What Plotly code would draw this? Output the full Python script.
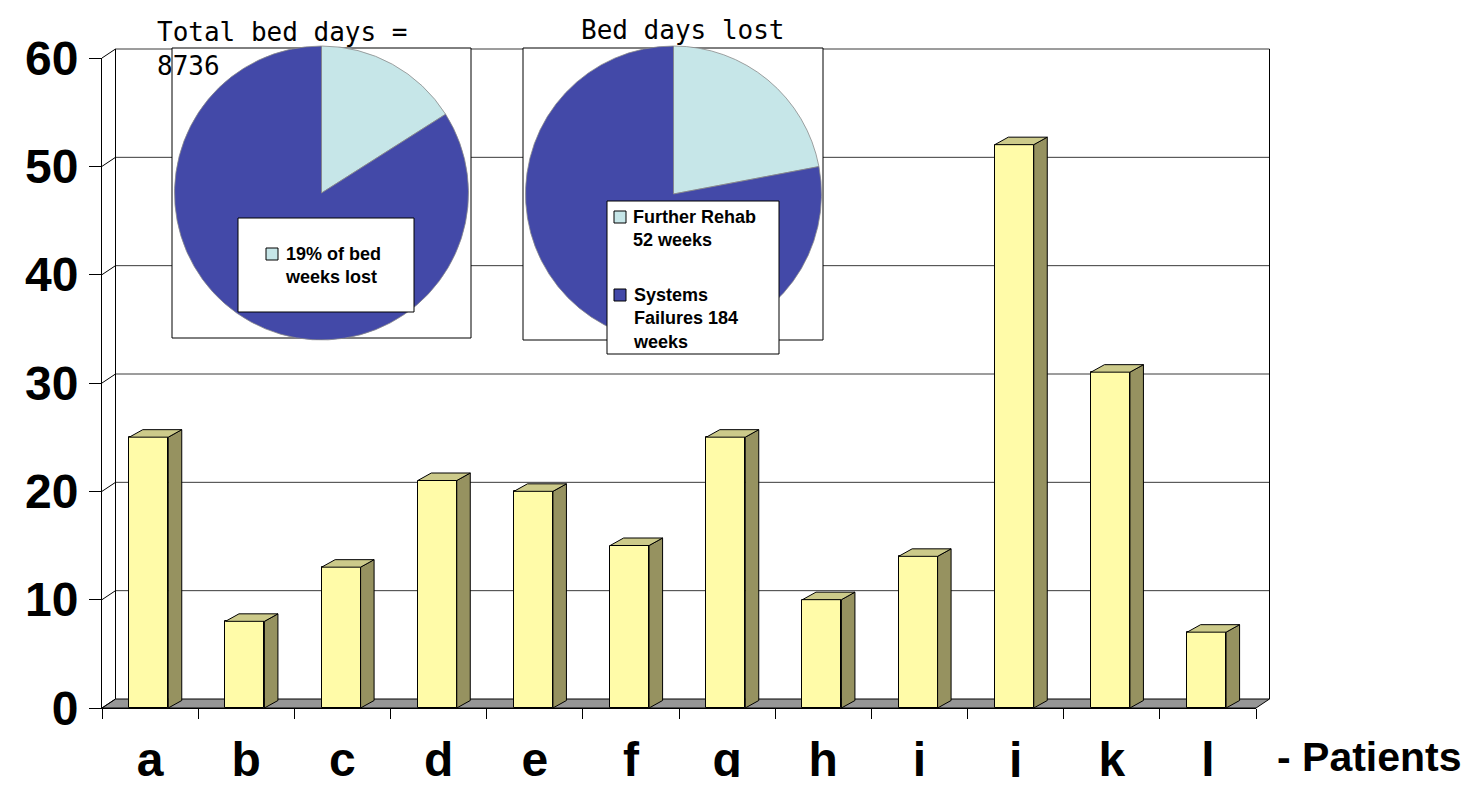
import plotly.graph_objects as go

# ---------------- data ----------------
patients = ["a", "b", "c", "d", "e", "f", "g", "h", "i", "j", "k", "l"]
weeks_lost = [25, 8, 13, 21, 20, 15, 25, 10, 14, 52, 31, 7]
y_tick_values = [0, 10, 20, 30, 40, 50, 60]

pie1_labels = ["19% of bed weeks lost", "Other bed weeks"]
pie1_values = [16, 84]
pie2_labels = ["Further Rehab 52 weeks", "Systems Failures 184 weeks"]
pie2_values = [52, 184]

# ---------------- geometry (pixels of the 1471x785 page) ----------------
PAGE_OFF = 8                                  # default body margin of the html page
FIG_W, FIG_H = 1455, 769
AX_L, AX_R, AX_T, AX_B = 102, 1256, 58, 708   # front frame of the 3-D plot (page px)
Y_MAX = 60
N = len(patients)
WALL_DX, WALL_DY = 13.5, 9.0                  # depth of back wall (px)
BAR_DX, BAR_DY = 13.5, 7.5                    # depth of columns (px)
BAR_W = 0.405
BAR_SHIFT = -0.0135

kx = (AX_R - AX_L) / N
ky = (AX_B - AX_T) / Y_MAX

def px(x):
    return (x - PAGE_OFF) / FIG_W

def py(y):
    return 1 - (y - PAGE_OFF) / FIG_H

xdom = [px(AX_L), px(AX_R)]
ydom = [py(AX_B), py(AX_T)]

def wall_x(xv):
    return xdom[0] + xv / N * (xdom[1] - xdom[0]) + WALL_DX / FIG_W

def wall_y(yv):
    return ydom[0] + yv / Y_MAX * (ydom[1] - ydom[0]) + WALL_DY / FIG_H

FRONT = "#FFFBA8"
SIDE = "#969260"
TOP = "#CCCA8A"
FLOOR = "#969696"
GRID = "#3a3a3a"
LIGHT = "#C6E6E8"
DARK = "#4349A8"

fig = go.Figure()

# ---------------- columns ----------------
centers = [i + 0.5 + BAR_SHIFT for i in range(N)]
fig.add_trace(go.Bar(
    x=centers, y=weeks_lost, width=BAR_W,
    marker=dict(color=FRONT, line=dict(color="black", width=1)),
    showlegend=False, hoverinfo="skip",
))

bdx = BAR_DX / kx
bdy = BAR_DY / ky
side_x, side_y, top_x, top_y = [], [], [], []
for c, v in zip(centers, weeks_lost):
    xl, xr = c - BAR_W / 2, c + BAR_W / 2
    side_x += [xr, xr + bdx, xr + bdx, xr, xr, None]
    side_y += [0, bdy, v + bdy, v, 0, None]
    top_x += [xl, xr, xr + bdx, xl + bdx, xl, None]
    top_y += [v, v, v + bdy, v + bdy, v, None]

fig.add_trace(go.Scatter(x=side_x, y=side_y, mode="lines", fill="toself",
                         fillcolor=SIDE, line=dict(color="black", width=1),
                         showlegend=False, hoverinfo="skip"))
fig.add_trace(go.Scatter(x=top_x, y=top_y, mode="lines", fill="toself",
                         fillcolor=TOP, line=dict(color="black", width=1),
                         showlegend=False, hoverinfo="skip"))

# ---------------- pies ----------------
def pie_domain(cx, cy, d):
    return dict(x=[px(cx - d / 2), px(cx + d / 2)], y=[py(cy + d / 2), py(cy - d / 2)])

fig.add_trace(go.Pie(labels=pie1_labels, values=pie1_values, sort=False,
                     direction="clockwise", rotation=0, textinfo="none",
                     hoverinfo="label+value",
                     marker=dict(colors=[LIGHT, DARK], line=dict(color="#8a8a8a", width=0.8)),
                     domain=pie_domain(321.5, 193, 294), showlegend=False))
fig.add_trace(go.Pie(labels=pie2_labels, values=pie2_values, sort=False,
                     direction="clockwise", rotation=0, textinfo="none",
                     hoverinfo="label+value",
                     marker=dict(colors=[LIGHT, DARK], line=dict(color="#8a8a8a", width=0.8)),
                     domain=pie_domain(673.5, 194, 296), showlegend=False))

# ---------------- walls, floor, gridlines ----------------
shapes = []
shapes.append(dict(type="path", xref="paper", yref="paper", layer="below",
                   path=f"M{xdom[0]},{ydom[0]} L{xdom[1]},{ydom[0]} "
                        f"L{wall_x(N)},{wall_y(0)} L{wall_x(0)},{wall_y(0)} Z",
                   fillcolor=FLOOR, line=dict(color="black", width=1)))
for v in y_tick_values:
    y0 = ydom[0] + v / Y_MAX * (ydom[1] - ydom[0])
    shapes.append(dict(type="line", xref="paper", yref="paper", layer="below",
                       x0=xdom[0], y0=y0, x1=wall_x(0), y1=wall_y(v),
                       line=dict(color="black", width=1)))
    if v > 0:
        shapes.append(dict(type="line", xref="paper", yref="paper", layer="below",
                           x0=wall_x(0), y0=wall_y(v), x1=wall_x(N), y1=wall_y(v),
                           line=dict(color=GRID, width=1)))
for xv in (0, N):
    shapes.append(dict(type="line", xref="paper", yref="paper", layer="below",
                       x0=wall_x(xv), y0=wall_y(0), x1=wall_x(xv), y1=wall_y(Y_MAX),
                       line=dict(color="black", width=1)))

for (x0, y0, x1, y1) in [(172, 48, 471, 338), (523, 48, 823, 340)]:
    shapes.append(dict(type="rect", xref="paper", yref="paper", layer="below",
                       x0=px(x0), x1=px(x1), y0=py(y1), y1=py(y0),
                       fillcolor="white", line=dict(color="black", width=1)))

for (x0, y0, x1, y1) in [(238, 218, 414, 312), (607, 201, 779, 354)]:
    shapes.append(dict(type="rect", xref="paper", yref="paper", layer="above",
                       x0=px(x0), x1=px(x1), y0=py(y1), y1=py(y0),
                       fillcolor="white", line=dict(color="black", width=1)))
for (x0, y0, col) in [(266, 248, LIGHT), (614, 211, LIGHT), (614, 289, DARK)]:
    shapes.append(dict(type="rect", xref="paper", yref="paper", layer="above",
                       x0=px(x0), x1=px(x0 + 12), y0=py(y0 + 12), y1=py(y0),
                       fillcolor=col, line=dict(color="black", width=1)))

LEG_FONT = dict(family="Liberation Sans, Arial", size=18, color="black", weight="bold")
TITLE_FONT = dict(family="DejaVu Sans Mono, monospace", size=26, color="black")
annotations = [
    dict(text="19% of bed<br>weeks lost", x=px(283), y=py(265), xanchor="left",
         yanchor="middle", align="left", font=LEG_FONT),
    dict(text="Further Rehab<br>52 weeks", x=px(631), y=py(228.5), xanchor="left",
         yanchor="middle", align="left", font=LEG_FONT),
    dict(text="Systems<br>Failures 184<br>weeks", x=px(631), y=py(318.5), xanchor="left",
         yanchor="middle", align="left", font=LEG_FONT),
    dict(text="Total bed days =<br>8736", x=px(155), y=py(49), xanchor="left",
         yanchor="middle", align="left", font=TITLE_FONT),
    dict(text="Bed days lost", x=px(683), y=py(30), xanchor="center",
         yanchor="middle", font=TITLE_FONT),
    dict(text="- Patients", x=px(1275), y=py(757), xanchor="left", yanchor="middle",
         font=dict(family="Liberation Sans, Arial", size=41, color="black", weight="bold")),
]
for a in annotations:
    a.update(xref="paper", yref="paper", showarrow=False)

AX_FONT = dict(family="Liberation Sans, Arial", size=48, color="black", weight="bold")

fig.update_layout(
    width=FIG_W, height=FIG_H,
    margin=dict(l=0, r=0, t=0, b=0, autoexpand=False),
    paper_bgcolor="white", plot_bgcolor="rgba(0,0,0,0)",
    showlegend=False,
    bargap=0,
    shapes=shapes,
    annotations=annotations,
    xaxis=dict(domain=xdom, range=[0, N], showgrid=False, zeroline=False, automargin=False,
               showline=True, linecolor="black", linewidth=1,
               tickmode="array", tickvals=[i + 0.5 for i in range(N)], ticktext=patients,
               ticks="", tickfont=AX_FONT, ticklabelstandoff=9,
               minor=dict(tickmode="array", tickvals=list(range(N + 1)), ticks="outside",
                          ticklen=10, tickwidth=1, tickcolor="black", showgrid=False),
               fixedrange=True),
    yaxis=dict(domain=ydom, range=[0, Y_MAX], showgrid=False, zeroline=False, automargin=False,
               showline=True, linecolor="black", linewidth=1,
               tickmode="array", tickvals=y_tick_values,
               ticks="outside", ticklen=12, tickwidth=1, tickcolor="black",
               tickfont=AX_FONT, ticklabelstandoff=1, fixedrange=True),
)

fig.write_html("out.html")
